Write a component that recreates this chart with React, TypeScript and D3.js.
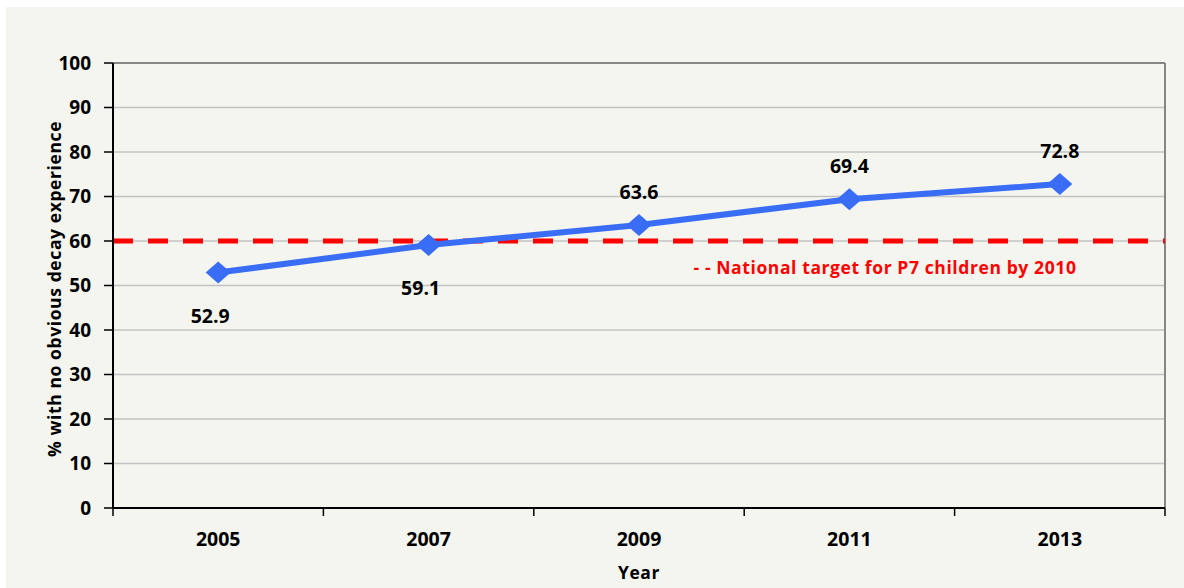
import React from "react";
import * as d3 from "d3";

const years = ["2005", "2007", "2009", "2011", "2013"];
const values = [52.9, 59.1, 63.6, 69.4, 72.8];
const target = 60;
const yTicks = [0, 10, 20, 30, 40, 50, 60, 70, 80, 90, 100];
const yTitle = "% with no obvious decay experience";
const xTitle = "Year";
const legendText = "- - National target for P7 children by 2010";

const W = 1184;
const H = 588;
const M = { left: 113, right: 1165, top: 63, bottom: 508 };
const FONT = "'Open Sans', Lato, sans-serif";

export default function App() {
  const x = d3.scaleBand<string>().domain(years).range([M.left, M.right]).padding(0);
  const y = d3.scaleLinear().domain([0, 100]).range([M.bottom, M.top]);
  const cx = (d: string) => (x(d) as number) + x.bandwidth() / 2;
  const line = d3
    .line<number>()
    .x((_, i) => cx(years[i]))
    .y((v) => y(v));
  const diamond = "M0,-11L12.5,0L0,11L-12.5,0Z";
  const xEdges = [...years.map((d) => x(d) as number), M.right];

  return (
    <div style={{ position: "fixed", left: 0, top: 0 }}>
      <svg width={W} height={H} style={{ display: "block", background: "#ffffff" }}>
        <rect x={6} y={7} width={W - 6} height={H - 7} fill="#f3f5ee" />
        {yTicks.map((t) => (
          <g key={t}>
            {t > 0 && (
              <line
                x1={M.left}
                x2={M.right}
                y1={y(t)}
                y2={y(t)}
                stroke={t === 100 ? "#868686" : "#c3c3c3"}
                strokeWidth={t === 100 ? 2 : 1.5}
              />
            )}
            <line x1={M.left - 9} x2={M.left} y1={y(t)} y2={y(t)} stroke="#000" strokeWidth={1.5} />
            <text
              x={M.left - 22}
              y={y(t)}
              dy="0.36em"
              textAnchor="end"
              fontFamily={FONT}
              fontWeight={700}
              fontSize={19}
              fill="#000"
            >
              {t}
            </text>
          </g>
        ))}
        <line x1={M.right} x2={M.right} y1={M.top} y2={M.bottom} stroke="#868686" strokeWidth={2} />
        {/* target line */}
        <line
          x1={M.left}
          x2={M.right}
          y1={y(target)}
          y2={y(target)}
          stroke="#ff0000"
          strokeWidth={5}
          strokeDasharray="20 15"
        />
        {/* axes */}
        <line x1={M.left} x2={M.left} y1={M.top} y2={M.bottom} stroke="#000" strokeWidth={2} />
        <line x1={M.left} x2={M.right} y1={M.bottom} y2={M.bottom} stroke="#000" strokeWidth={2} />
        {xEdges.map((e, i) => (
          <line key={i} x1={e} x2={e} y1={M.bottom} y2={M.bottom + 8} stroke="#000" strokeWidth={1.5} />
        ))}
        {years.map((d) => (
          <text
            key={d}
            x={cx(d)}
            y={546}
            textAnchor="middle"
            fontFamily={FONT}
            fontWeight={700}
            fontSize={19.5}
            fill="#000"
          >
            {d}
          </text>
        ))}
        <text
          x={(M.left + M.right) / 2}
          y={579}
          textAnchor="middle"
          fontFamily={FONT}
          fontWeight={700}
          fontSize={17.5}
          letterSpacing={0.6}
          fill="#000"
        >
          {xTitle}
        </text>
        <text
          transform={`translate(61,${289}) rotate(-90)`}
          textAnchor="middle"
          fontFamily={FONT}
          fontWeight={700}
          fontSize={17.5}
          letterSpacing={0.6}
          fill="#000"
        >
          {yTitle}
        </text>
        {/* series */}
        <path d={line(values) || ""} fill="none" stroke="#3a6df5" strokeWidth={6} />
        {values.map((v, i) => (
          <path key={i} d={diamond} transform={`translate(${cx(years[i])},${y(v)})`} fill="#3a6df5" />
        ))}
        {values.map((v, i) => {
          const below = v < target;
          return (
            <text
              key={i}
              x={cx(years[i]) + (below ? -8 : 0)}
              y={y(v) + (below ? 43 : -33)}
              dy="0.36em"
              textAnchor="middle"
              fontFamily={FONT}
              fontWeight={700}
              fontSize={19.5}
              fill="#000"
            >
              {v.toFixed(1)}
            </text>
          );
        })}
        <text
          x={885}
          y={268}
          dy="0.36em"
          textAnchor="middle"
          fontFamily={FONT}
          fontWeight={700}
          fontSize={17.5}
          letterSpacing={0.6}
          fill="#ff0000"
        >
          {legendText}
        </text>
      </svg>
    </div>
  );
}
